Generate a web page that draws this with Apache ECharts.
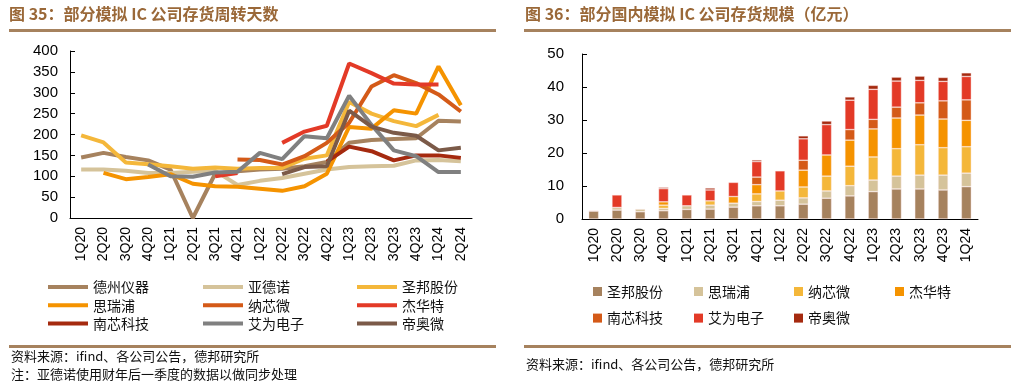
<!DOCTYPE html>
<html>
<head>
<meta charset="utf-8">
<script src="https://cdn.jsdelivr.net/npm/echarts@6/dist/echarts.min.js"></script>
<style>
  html, body { margin: 0; padding: 0; background: #fff; }
  #main { width: 1019px; height: 392px; }
</style>
</head>
<body>
<div id="main"></div>
<script>
// quarters for both panels (bar panel stops at 1Q24)
const quarters = ['1Q20', '2Q20', '3Q20', '4Q20', '1Q21', '2Q21', '3Q21', '4Q21', '1Q22',
  '2Q22', '3Q22', '4Q22', '1Q23', '2Q23', '3Q23', '4Q23', '1Q24', '2Q24'];
const barQuarters = quarters.slice(0, 17);

// fig 35: inventory turnover days
const dzyq = [145, 156, 146, 138, 116, 0, 106, 112, 116, 118, 124, 134, 180, 187, 189, 191, 233, 231];
const ydn = [116, 116, 113, 108, 108, 111, 113, 79, 89, 96, 106, 116, 122, 124, 125, 138, 139, 136];
const sbgf = [198, 181, 133, 129, 124, 118, 121, 118, 120, 120, 142, 150, 278, 250, 232, 220, 247, null];
const srp = [null, 108, 93, 98, 105, 82, 76, 75, 70, 65, 76, 106, 218, 214, 258, 250, 363, 270];
const nxw = [null, null, null, null, null, null, null, 140, 139, 128, 148, 180, 228, 315, 342, 323, 296, 255];
const jht = [null, null, null, null, null, null, 100, 108, null, 180, 207, 221, 370, 347, 322, 320, 320, null];
const nxkj = [null, null, null, null, null, null, null, null, null, null, null, 135, 171, 160, 138, 150, 150, 144];
const awdz = [null, null, null, 128, 100, 99, 109, 111, 156, 141, 196, 191, 293, 223, 162, 148, 110, 110];
const daw = [null, null, null, null, null, null, null, null, null, 105, 122, 124, 257, 219, 204, 197, 162, 168];

// fig 36: inventory size (100m yuan), stacked
const invSb = [2.4, 2.7, 2.2, 2.5, 2.9, 3.0, 3.6, 4.0, 4.0, 4.5, 6.3, 7.0, 8.3, 9.1, 9.1, 8.8, 9.8];
const invSrp = [0.2, 0.8, 0.8, 0.7, 1.1, 1.2, 1.2, 1.3, 1.7, 1.9, 2.2, 3.1, 3.5, 3.9, 4.2, 4.5, 4.1];
const invNxw = [null, null, null, 1.0, null, 1.3, null, 2.3, 2.8, 3.3, 4.5, 5.9, 7.0, 8.3, 9.2, 8.3, 8.0];
const invJht = [null, null, null, 1.0, null, null, 2.0, 2.8, null, 5.1, 6.4, 7.9, 8.5, 9.3, 9.0, 8.7, 8.0];
const invNxkj = [null, null, null, null, null, null, null, 2.3, null, 3.0, null, 3.2, 2.9, 3.3, 3.7, 5.5, 6.2];
const invAw = [null, 3.8, null, 4.0, 3.3, 3.3, 4.3, 4.7, 6.1, 6.5, 9.2, 8.9, 9.1, 7.9, 6.8, 5.9, 7.1];
const invDaw = [null, null, null, 0.4, null, 0.6, null, 0.5, null, 0.9, 1.1, 1.0, 1.2, 1.2, 1.3, 1.2, 1.1];

const leftTicks = { min: 0, max: 400, interval: 50 };
const rightTicks = { min: 0, max: 50, interval: 10 };

const cjk = '"Noto Sans CJK SC", "Noto Sans", sans-serif';
const num = '"Liberation Sans", Arial, sans-serif';
const brown = '#A6825E';
const titleColor = '#9A6838';

const lineDefs = [
  ['德州仪器', dzyq, '#A6825E'],
  ['亚德诺', ydn, '#D5C39A'],
  ['圣邦股份', sbgf, '#F4B73A'],
  ['思瑞浦', srp, '#F59300'],
  ['纳芯微', nxw, '#D45A18'],
  ['杰华特', jht, '#E33A27'],
  ['南芯科技', nxkj, '#A52A0F'],
  ['艾为电子', awdz, '#808080'],
  ['帝奥微', daw, '#7B5A48'],
];

const barDefs = [
  ['圣邦股份', invSb, '#A6825E'],
  ['思瑞浦', invSrp, '#D5C39A'],
  ['纳芯微', invNxw, '#F4B73A'],
  ['杰华特', invJht, '#F59300'],
  ['南芯科技', invNxkj, '#D45A18'],
  ['艾为电子', invAw, '#E33A27'],
  ['帝奥微', invDaw, '#A52A0F'],
];

const myChart = echarts.init(document.getElementById('main'));

function xAxisFor(gridIndex, data) {
  return {
    type: 'category',
    gridIndex: gridIndex,
    data: data,
    boundaryGap: true,
    axisLine: { lineStyle: { color: '#000', width: 1 } },
    axisTick: { inside: true, length: 5, lineStyle: { color: '#000' } },
    axisLabel: {
      rotate: 90,
      margin: 9,
      interval: 0,
      color: '#000',
      fontSize: 14,
      fontFamily: num,
    },
    splitLine: { show: false },
  };
}

function yAxisFor(gridIndex, ticks, margin) {
  return {
    type: 'value',
    gridIndex: gridIndex,
    min: ticks.min,
    max: ticks.max,
    interval: ticks.interval,
    axisLine: { show: true, lineStyle: { color: '#000', width: 1 } },
    axisTick: { show: true, inside: true, length: 5, lineStyle: { color: '#000' } },
    axisLabel: { color: '#000', fontSize: 15, fontFamily: num, margin: margin },
    splitLine: { show: false },
  };
}

// legend helpers: one vertical legend per column
function lineLegend(left, names) {
  return {
    orient: 'vertical',
    left: left,
    top: 279,
    padding: 0,
    itemGap: 2.3,
    itemWidth: 40,
    itemHeight: 4,
    icon: 'rect',
    selectedMode: false,
    textStyle: { fontSize: 14, lineHeight: 16, color: '#111', fontFamily: cjk },
    data: names.map((n) => ({
      name: n,
      itemStyle: { color: lineDefs.find((d) => d[0] === n)[2] },
    })),
  };
}

function barLegend(left, names) {
  return {
    orient: 'vertical',
    left: left,
    top: 283.5,
    padding: 0,
    itemGap: 10.6,
    itemWidth: 9,
    itemHeight: 9,
    icon: 'rect',
    selectedMode: false,
    textStyle: { fontSize: 14, lineHeight: 16, color: '#111', fontFamily: cjk },
    data: names.map((n) => ({
      name: n,
      itemStyle: { color: barDefs.find((d) => d[0] === n)[2] },
    })),
  };
}

const series = [];

lineDefs.forEach((d) => {
  series.push({
    name: d[0],
    type: 'line',
    xAxisIndex: 0,
    yAxisIndex: 0,
    data: d[1],
    showSymbol: false,
    symbol: 'none',
    connectNulls: false,
    lineStyle: { color: d[2], width: 4 },
    itemStyle: { color: d[2] },
  });
});

barDefs.forEach((d) => {
  series.push({
    name: d[0],
    type: 'bar',
    stack: 'inv',
    xAxisIndex: 1,
    yAxisIndex: 1,
    data: d[1],
    barWidth: 10,
    itemStyle: {
      color: d[2],
      borderColor: 'rgba(255,235,235,0.7)',
      borderWidth: 0.6,
    },
  });
});

const option = {
  animation: false,
  backgroundColor: '#fff',
  grid: [
    { left: 70, top: 51, width: 402, height: 167 },
    { left: 582, top: 54, width: 396, height: 165 },
  ],
  xAxis: [xAxisFor(0, quarters), xAxisFor(1, barQuarters)],
  yAxis: [yAxisFor(0, leftTicks, 12), yAxisFor(1, rightTicks, 18)],
  legend: [
    lineLegend(48, ['德州仪器', '思瑞浦', '南芯科技']),
    lineLegend(203, ['亚德诺', '纳芯微', '艾为电子']),
    lineLegend(357, ['圣邦股份', '杰华特', '帝奥微']),
    barLegend(593, ['圣邦股份', '南芯科技']),
    barLegend(694, ['思瑞浦', '艾为电子']),
    barLegend(794, ['纳芯微', '帝奥微']),
    barLegend(895, ['杰华特']),
  ],
  graphic: [
    {
      type: 'text',
      left: 9,
      top: 6,
      style: {
        text: '图 35：部分模拟 IC 公司存货周转天数',
        font: 'bold 16px ' + cjk,
        fill: titleColor,
      },
    },
    {
      type: 'text',
      left: 525,
      top: 6,
      style: {
        text: '图 36：部分国内模拟 IC 公司存货规模（亿元）',
        font: 'bold 16px ' + cjk,
        fill: titleColor,
      },
    },
    { type: 'rect', shape: { x: 9, y: 29, width: 487, height: 3 }, style: { fill: brown } },
    { type: 'rect', shape: { x: 524, y: 29, width: 487, height: 3 }, style: { fill: brown } },
    { type: 'rect', shape: { x: 9, y: 345, width: 487, height: 3 }, style: { fill: brown } },
    { type: 'rect', shape: { x: 524, y: 345, width: 487, height: 3 }, style: { fill: brown } },
    {
      type: 'text',
      left: 11,
      top: 350,
      style: { text: '资料来源：ifind、各公司公告，德邦研究所', font: '13px ' + cjk, fill: '#111' },
    },
    {
      type: 'text',
      left: 11,
      top: 368,
      style: { text: '注：亚德诺使用财年后一季度的数据以做同步处理', font: '13px ' + cjk, fill: '#111' },
    },
    {
      type: 'text',
      left: 526,
      top: 358,
      style: { text: '资料来源：ifind、各公司公告，德邦研究所', font: '13px ' + cjk, fill: '#111' },
    },
  ],
  series: series,
};

myChart.setOption(option);
</script>
</body>
</html>
